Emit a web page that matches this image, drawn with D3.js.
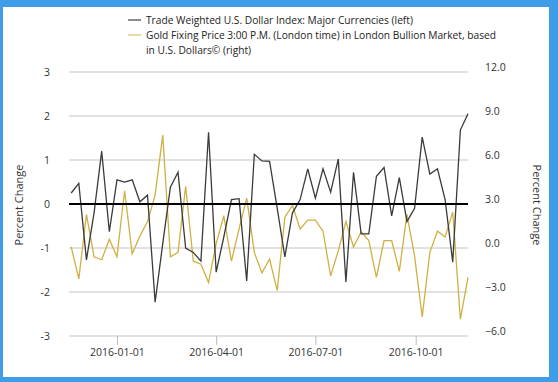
<!DOCTYPE html>
<html>
<head>
<meta charset="utf-8">
<script src="https://d3js.org/d3.v7.min.js"></script>
<style>
  body { margin: 0; background: #fff; }
  svg { display: block; font-family: "Open Sans", sans-serif; }
</style>
</head>
<body>
<svg width="558" height="382"></svg>
<script>
// weekly observations (week ending Friday)
var dates = ["2015-11-20","2015-11-27","2015-12-04","2015-12-11","2015-12-18","2015-12-25",
  "2016-01-01","2016-01-08","2016-01-15","2016-01-22","2016-01-29","2016-02-05","2016-02-12",
  "2016-02-19","2016-02-26","2016-03-04","2016-03-11","2016-03-18","2016-03-25","2016-04-01",
  "2016-04-08","2016-04-15","2016-04-22","2016-04-29","2016-05-06","2016-05-13","2016-05-20",
  "2016-05-27","2016-06-03","2016-06-10","2016-06-17","2016-06-24","2016-07-01","2016-07-08",
  "2016-07-15","2016-07-22","2016-07-29","2016-08-05","2016-08-12","2016-08-19","2016-08-26",
  "2016-09-02","2016-09-09","2016-09-16","2016-09-23","2016-09-30","2016-10-07","2016-10-14",
  "2016-10-21","2016-10-28","2016-11-04","2016-11-11","2016-11-18"]
// trade weighted dollar, % change (left axis)
var dollar = [0.25,0.47,-1.27,-0.2,1.2,-0.63,0.55,0.5,0.55,0.05,0.2,-2.23,-0.9,0.38,0.72,-1.0,
  -1.1,-1.3,1.63,-1.55,-0.75,0.1,0.12,-1.75,1.13,0.98,0.97,-0.1,-1.2,-0.2,0.1,0.8,0.13,0.8,
  0.27,1.02,-1.77,0.72,-0.68,-0.68,0.63,0.83,-0.27,0.6,-0.4,-0.1,1.52,0.68,0.8,0.1,-1.32,1.68,2.05]
// gold fixing price, % change (right axis)
var gold = [0.07,-2.1,2.3,-0.6,-0.8,0.6,-0.6,3.9,-0.4,0.8,1.8,3.6,7.7,-0.6,-0.3,4.2,-0.9,-1.1,
  -2.35,0.3,2.2,-0.9,1.3,3.4,-0.3,-1.7,-0.75,-2.9,2.1,2.9,1.3,1.9,1.9,1.15,-1.9,-0.2,1.8,0.07,
  1.1,0.5,-2.0,0.5,0.5,-1.6,2.3,-0.55,-4.7,-0.3,1.15,0.75,2.45,-4.85,-2.0]
var leftTicks = [-3,-2,-1,0,1,2,3]
var rightTicks = [-6,-3,0,3,6,9,12]
var xTicks = ["2016-01-01","2016-04-01","2016-07-01","2016-10-01"]
var legendLabels = [
  ["Trade Weighted U.S. Dollar Index: Major Currencies (left)"],
  ["Gold Fixing Price 3:00 P.M. (London time) in London Bullion Market, based", "in U.S. Dollars\u00a9 (right)"]
]

var parse = d3.timeParse("%Y-%m-%d")
var svg = d3.select("svg")

// frame
svg.append("rect").attr("width", 558).attr("height", 382).attr("fill", "#3f9ce6")
svg.append("rect").attr("x", 3).attr("y", 7).attr("width", 546).attr("height", 370).attr("fill", "#fff")

var x = d3.scaleTime().domain([parse("2015-11-18"), parse("2016-11-18")]).range([69, 468])
var yL = d3.scaleLinear().domain([-3, 3]).range([336, 72])
var yR = d3.scaleLinear().domain([-6, 12]).range([336, 72])

// grid
svg.append("g").selectAll("line").data(leftTicks).enter().append("line")
  .attr("x1", 69).attr("x2", 468)
  .attr("y1", d => yL(d)).attr("y2", d => yL(d))
  .attr("stroke", "#c4c4c4").attr("stroke-width", 1)

// left axis labels
svg.append("g").selectAll("text").data(leftTicks).enter().append("text")
  .attr("x", 50).attr("y", d => yL(d)).attr("dy", "0.35em")
  .attr("text-anchor", "end").attr("font-size", 10.5).attr("fill", "#333")
  .text(d => d)

// right axis labels
svg.append("g").selectAll("text").data(rightTicks).enter().append("text")
  .attr("x", 485).attr("y", d => yR(d) - 5).attr("dy", "0.35em")
  .attr("font-size", 10.5).attr("fill", "#333")
  .text(d => d3.format(".1f")(d))

// x axis
var xa = svg.append("g").attr("transform", "translate(0,336)")
  .call(d3.axisBottom(x).tickValues(xTicks.map(parse)).tickFormat(d3.timeFormat("%Y-%m-%d")).tickSize(9).tickPadding(4))
xa.select(".domain").remove()
xa.selectAll("line").attr("stroke", "#bbb")
xa.selectAll("text").attr("font-size", 10.5).attr("fill", "#333").attr("font-family", "Open Sans")

// axis titles
svg.append("text").attr("transform", "translate(23,205) rotate(-90)")
  .attr("text-anchor", "middle").attr("font-size", 11).attr("fill", "#333").text("Percent Change")
svg.append("text").attr("transform", "translate(533,205) rotate(90)")
  .attr("text-anchor", "middle").attr("font-size", 11).attr("fill", "#333").text("Percent Change")

// lines
var ld = d3.line().x((d, i) => x(parse(dates[i]))).y(d => yL(d))
var lg = d3.line().x((d, i) => x(parse(dates[i]))).y(d => yR(d))
svg.append("path").datum(gold).attr("d", lg).attr("fill", "none")
  .attr("stroke", "#cfb043").attr("stroke-width", 1.3)
svg.append("path").datum(dollar).attr("d", ld).attr("fill", "none")
  .attr("stroke", "#3a3a3a").attr("stroke-width", 1.3)

// zero line
svg.append("line").attr("x1", 69).attr("x2", 468)
  .attr("y1", yL(0)).attr("y2", yL(0)).attr("stroke", "#000").attr("stroke-width", 2)

// legend
var colors = ["#666", "#e3d08a"]
var lgd = svg.append("g")
legendLabels.forEach(function (lines, i) {
  var y0 = 20 + i * 15
  lgd.append("line").attr("x1", 128).attr("x2", 141).attr("y1", y0).attr("y2", y0)
    .attr("stroke", colors[i]).attr("stroke-width", 1.5)
  lines.forEach(function (t, j) {
    lgd.append("text").attr("x", 146).attr("y", y0 + j * 15).attr("dy", "0.35em")
      .attr("font-size", 10.2).attr("fill", "#222").text(t)
  })
})
</script>
</body>
</html>
